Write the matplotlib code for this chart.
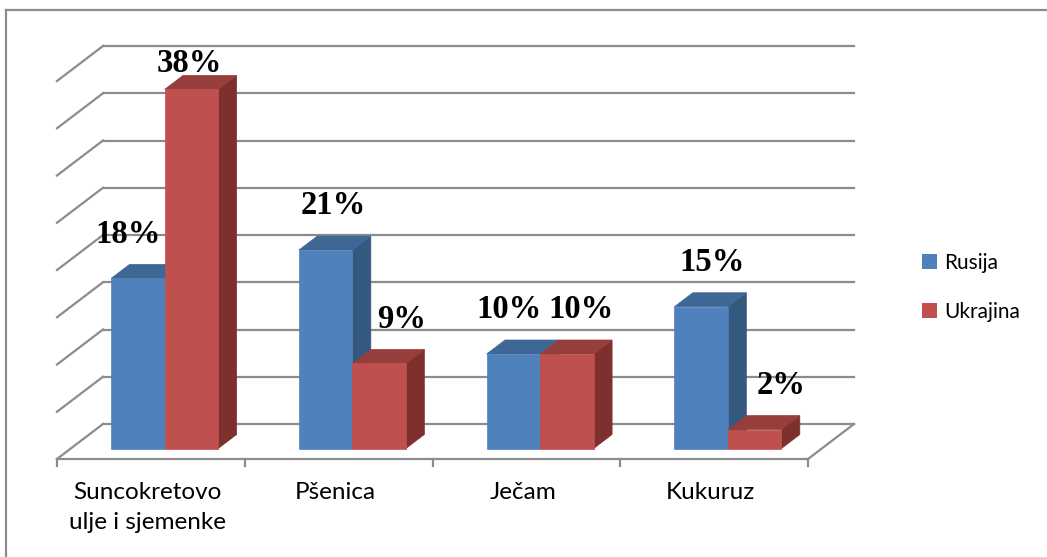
import numpy as np
import matplotlib.pyplot as plt
from matplotlib.patches import Polygon, Rectangle
from matplotlib.lines import Line2D

# Podaci
categories = ['Suncokretovo\nulje i sjemenke', 'Pšenica', 'Ječam', 'Kukuruz']
series_names = ['Rusija', 'Ukrajina']
rusija = [18, 21, 10, 15]
ukrajina = [38, 9, 10, 2]
y_ticks = np.arange(0, 41, 5)

# boje: prednja strana, vrh, bok
colors = {
    'Rusija': ('#4F81BD', '#3E6796', '#34597F'),
    'Ukrajina': ('#C0504D', '#953E3B', '#7D302E'),
}
# ručno pomicanje natpisa (px), kao u Excelu
label_nudge = {
    'Rusija': [-10, 8, -4, 11],
    'Ukrajina': [-2, 22, 14, 26],
}

W, H = 1047, 557
fig = plt.figure(figsize=(W / 100, H / 100), dpi=100)
ax = fig.add_axes([0, 0, 1, 1])

# 1 kategorija = 187.75 px, 1% = 9.45 px, ishodište poda na (57, 459) px
PX_CAT, PX_PCT = 187.75, 9.45
X0, Y0 = 57, 459
ax.set_xlim(-X0 / PX_CAT, (W - X0) / PX_CAT)
ax.set_ylim((Y0 - H) / PX_PCT, Y0 / PX_PCT)
ax.axis('off')

DX, DY = 46 / PX_CAT, 35 / PX_PCT  # dubina poda


def proj(x, y, d):
    return (x + d * DX, y + d * DY)


def px(x, y):
    return ((x - X0) / PX_CAT, (Y0 - y) / PX_PCT)


grid_c = '#8C8C8C'
n = len(categories)

# mreža: stražnji zid i lijevi bok
for v in y_ticks:
    ax.plot([DX, n + DX], [v + DY, v + DY], color=grid_c, lw=1.6, zorder=1)
    ax.plot([0, DX], [v, v + DY], color=grid_c, lw=1.6, zorder=1)

# pod i oznake na osi
ax.plot([0, n], [0, 0], color=grid_c, lw=1.6, zorder=1)
ax.plot([n, n + DX], [0, DY], color=grid_c, lw=1.6, zorder=1)
for i in range(n + 1):
    ax.plot([i, i], [0, -0.7], color=grid_c, lw=1.6, zorder=1)

# stupci
d0, d1 = 0.3, 0.7
bw = 0.285
values = {'Rusija': rusija, 'Ukrajina': ukrajina}
for i in range(n):
    for j, name in enumerate(series_names):
        v = values[name][i]
        xl = i + 0.5 - bw + j * bw
        xr = xl + bw
        front_c, top_c, side_c = colors[name]
        front = [proj(xl, 0, d0), proj(xr, 0, d0), proj(xr, v, d0), proj(xl, v, d0)]
        top = [proj(xl, v, d0), proj(xr, v, d0), proj(xr, v, d1), proj(xl, v, d1)]
        side = [proj(xr, 0, d0), proj(xr, 0, d1), proj(xr, v, d1), proj(xr, v, d0)]
        for poly, c in [(side, side_c), (top, top_c), (front, front_c)]:
            ax.add_patch(Polygon(poly, closed=True, facecolor=c, edgecolor=c,
                                 lw=0.5, zorder=2))

        cx = proj((xl + xr) / 2, v, d0)[0] + label_nudge[name][i] / PX_CAT
        cy = min(v + 4.9, 41.0)
        ax.text(cx, cy, f'{v}%', ha='center', va='baseline',
                fontsize=23.5, fontweight='bold', family='Liberation Serif',
                color='black', zorder=5)

# nazivi kategorija
for i, cat in enumerate(categories):
    ax.text(i + 0.48, px(0, 482)[1], cat, ha='center', va='top',
            fontsize=17.5, family='Lato', linespacing=1.55, color='black')

# legenda
for k, name in enumerate(series_names):
    ytop = 254 + 48.5 * k
    x, y = px(922, ytop + 15)
    ax.add_patch(Rectangle((x, y), 15 / PX_CAT, 15 / PX_PCT,
                           facecolor=colors[name][0], edgecolor='none'))
    tx, ty = px(944, ytop + 15)
    ax.text(tx, ty, name, ha='left', va='baseline', fontsize=15,
            family='Lato', color='black')

# okvir
fig.add_artist(Line2D([6 / W, 6 / W], [0, 1 - 10 / H], transform=fig.transFigure,
                      color='#8C8C8C', lw=1.6))
fig.add_artist(Line2D([6 / W, 1], [1 - 10 / H, 1 - 10 / H], transform=fig.transFigure,
                      color='#8C8C8C', lw=1.6))

fig.savefig('out.png', dpi=100)
